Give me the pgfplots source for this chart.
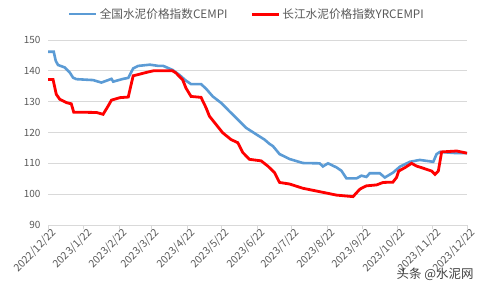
\documentclass[border=0pt]{standalone}
\usepackage{fontspec}
\setmainfont{Noto Sans CJK SC}
\usepackage{pgfplots}
\pgfplotsset{compat=1.18}
\definecolor{cblue}{HTML}{5B9BD5}
\definecolor{cred}{HTML}{FF0000}
\definecolor{tgray}{HTML}{595959}
\definecolor{ggray}{HTML}{D9D9D9}
\pgfplotstableread{
d v
0 146.2
5.0 146.2
6.7 143.3
8.7 141.9
14.6 141.1
18.9 139.5
21.8 137.8
24.7 137.3
39.3 137
46.5 136.2
52.4 137
55.3 137.4
56.8 136.5
65.5 137.4
69.9 137.7
74.2 140.8
78.6 141.6
88.8 142
96.1 141.6
100.4 141.6
108.5 140.3
114.4 138.7
120.2 136.8
124.6 135.7
133.3 135.7
137.7 134.2
143.5 131.7
150.8 129.6
158 126.9
165.3 124.2
172.6 121.5
181.4 119.4
188.6 117.7
193 116.3
195.9 115.6
201.7 113
210.4 111.4
222.1 110.1
236.6 110
239.5 109
243.9 110
251.2 108.7
255.6 107.6
260 105.1
268.7 105.1
273 106
277.4 105.6
280.3 106.8
289 106.8
293.4 105.4
300.6 107
306.5 108.9
315.2 110.5
323.9 111.1
335.6 110.5
338.5 113
341.4 113.7
356 113.3
365 113.3
}\blue
\pgfplotstableread{
d v
0 137.2
4.4 137.2
7.2 132.4
10.2 130.8
16 129.7
20.3 129.3
22.4 126.6
42.2 126.5
48 125.9
52.4 128.6
55.3 130.5
62.6 131.3
69.9 131.5
74.2 138.4
78.6 138.8
85.8 139.5
91.7 140
108.5 140
111.5 139.3
117.3 137.1
120.2 134.4
124.6 131.7
133.3 131.4
137.7 128
140.6 125.3
146.4 122.6
152.2 119.9
159.5 117.7
165.3 116.7
169.7 113.5
175.5 111.3
185.7 110.8
191.5 109.1
197.3 107
201.7 103.8
210.4 103.3
222.1 101.9
239.5 100.6
251.2 99.7
265.7 99.2
271.6 101.6
274.5 102.2
277.4 102.7
286.2 103
291.9 103.8
300.4 103.9
303.6 105.4
305.5 107.5
310.9 108.6
316.7 110
321.1 109.1
325.4 108.6
334.2 107.5
337.1 106.4
340 107.5
342.9 113.7
356 114
365 113.3
}\red
\begin{document}
\begin{tikzpicture}[x=1bp,y=1bp]
\begin{axis}[
  at={(48bp,63bp)}, anchor=south west,
  scale only axis, width=419bp, height=185bp,
  xmin=0, xmax=365, ymin=90, ymax=150,
  axis x line*=bottom, axis y line*=left,
  y axis line style={draw=none},
  x axis line style={ggray, line width=0.8bp},
  ytick={90,100,...,150},
  ytick style={draw=none},
  xtick={0,31,62,90,121,151,182,212,243,274,304,335,365},
  xticklabels={2022/12/22,2023/1/22,2023/2/22,2023/3/22,2023/4/22,2023/5/22,2023/6/22,2023/7/22,2023/8/22,2023/9/22,2023/10/22,2023/11/22,2023/12/22},
  xtick style={ggray, line width=0.8bp},
  tick align=outside, major tick length=4bp,
  ymajorgrids, grid style={ggray, line width=0.8bp},
  /pgf/number format/assume math mode=true,
  yticklabel style={font=\fontsize{10}{11}\selectfont, text=tgray},
  xticklabel style={font=\fontsize{10.5}{11}\selectfont, text=tgray, rotate=45, anchor=north east, xshift=4bp, inner sep=1bp},
  legend columns=2,
  legend style={draw=none, fill=none, inner sep=0pt, at={(0.0477,1.14)}, anchor=west,
    font=\fontsize{11.7}{12}\selectfont, text=tgray,
    /tikz/every even column/.append style={column sep=21bp}},
  legend cell align=left,
  legend image code/.code={\draw[#1] (0bp,0bp) -- (27bp,0bp);},
]
\addplot[cblue, line width=2.6bp] table[x=d,y=v]{\blue};
\addlegendentry{全国水泥价格指数CEMPI}
\addplot[cred, line width=2.8bp] table[x=d,y=v]{\red};
\addlegendentry{长江水泥价格指数YRCEMPI}
\end{axis}
\node[anchor=east, font=\fontsize{12.5}{13}\selectfont, text=black!75] at (477,14) {头条 @水泥网};
\pgfresetboundingbox
\useasboundingbox (0,0) rectangle (485,288);
\end{tikzpicture}
\end{document}
